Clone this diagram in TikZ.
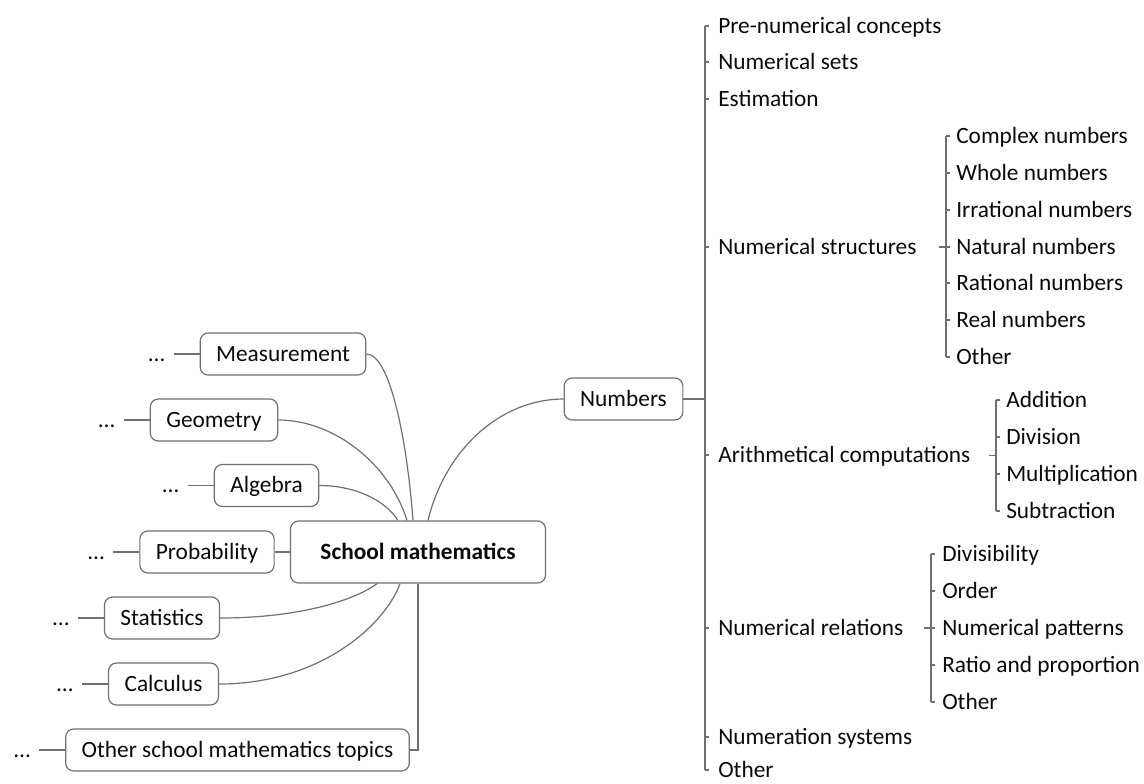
\documentclass[tikz,border=0pt]{standalone}
\usepackage{fontspec}
\setmainfont{Carlito}
\usetikzlibrary{positioning}
\definecolor{linegray}{RGB}{112,112,112}
\definecolor{inkgray}{RGB}{10,10,10}
\newcommand\mapfont{\fontsize{17.5}{20}\selectfont}
\tikzset{
  topic/.style={draw=linegray, line width=0.9pt, rounded corners=6pt, fill=white,
    inner xsep=12pt, inner ysep=0pt, minimum height=31.5pt,
    text height=11pt, text depth=0pt, font=\mapfont, text=inkgray},
  rootbox/.style={topic, inner xsep=22.5pt, minimum height=46.5pt, font=\mapfont\bfseries},
  leaf/.style={anchor=west, inner sep=0pt, text height=11pt, text depth=0pt,
    font=\mapfont, text=inkgray},
  more/.style={inner xsep=6.5pt, inner ysep=0pt, text height=11pt, text depth=0pt,
    font=\mapfont, text=inkgray},
  link/.style={draw=linegray, line width=0.9pt}
}
\begin{document}
\begin{tikzpicture}[x=0.75pt,y=0.75pt,yscale=-1,xscale=1]
\useasboundingbox (0,0) rectangle (1144,783);
% central topic and the left branches
\node[rootbox] (school) at (418,552) {School mathematics};
\node[topic] (meas) at (283,354) {Measurement};
\node[topic] (geom) at (214,420) {Geometry};
\node[topic] (alg) at (266.5,485.5) {Algebra};
\node[topic] (prob) at (207,552) {Probability};
\node[topic] (stat) at (162,618) {Statistics};
\node[topic] (calc) at (163.5,684) {Calculus};
\node[topic] (other) at (237.5,750) {Other school mathematics topics};
\node[topic] (numbers) at (623.5,399) {Numbers};
\foreach \t in {meas,geom,alg,prob,stat,calc,other}
  \node[more, left=19.5pt of \t] (\t dots) {…};
\foreach \t in {meas,geom,alg,prob,stat,calc,other}
  \draw[link] (\t dots) -- (\t);
\draw[link] (meas.east) .. controls (390,354) and (407,440) .. ([xshift=-3.75pt]school.north);
\draw[link] (geom.east) .. controls (335,420) and (390,465) .. ([xshift=-8.25pt]school.north);
\draw[link] (alg.east) .. controls (355,485.5) and (385,500) .. ([xshift=-15pt]school.north);
\draw[link] (prob) -- (school);
\draw[link] (stat.east) .. controls (300,618) and (355,600) .. ([xshift=-30.75pt]school.south);
\draw[link] (calc.east) .. controls (320,684) and (385,625) .. ([xshift=-13.5pt]school.south);
\draw[link] (other.east) -| (school.south);
\draw[link] ([xshift=7.5pt]school.north) .. controls (445,450) and (500,399) .. (numbers.west);
% numbers bracket
\coordinate (nbr) at (705,399);
\node[leaf] (pre) at (718,26) {Pre-numerical concepts};
\node[leaf] (sets) at (718,62) {Numerical sets};
\node[leaf] (est) at (718,99) {Estimation};
\node[leaf] (struct) at (718,247) {Numerical structures};
\node[leaf] (arith) at (718,455) {Arithmetical computations};
\node[leaf] (rel) at (718,628) {Numerical relations};
\node[leaf] (sys) at (718,737) {Numeration systems};
\node[leaf] (oth) at (718,770) {Other};
\draw[link] (numbers.east) -- (nbr);
\draw[link] (pre.west -| nbr) -- (oth.west -| nbr);
\foreach \n in {pre,sets,est,struct,arith,rel,sys,oth}
  \draw[link] (\n.west -| nbr) -- ++(4,0);
% numerical structures
\coordinate (sbr) at (946,247);
\node[leaf] (cplx) at (956,136) {Complex numbers};
\node[leaf] (whole) at (956,173) {Whole numbers};
\node[leaf] (irr) at (956,210) {Irrational numbers};
\node[leaf] (nat) at (956,247) {Natural numbers};
\node[leaf] (rat) at (956,283) {Rational numbers};
\node[leaf] (real) at (956,320) {Real numbers};
\node[leaf] (sothr) at (956,357) {Other};
\draw[link] (sbr) -- ++(-7,0);
\draw[link] (cplx.west -| sbr) -- (sothr.west -| sbr);
\foreach \n in {cplx,whole,irr,nat,rat,real,sothr}
  \draw[link] (\n.west -| sbr) -- ++(4,0);
% arithmetical computations
\coordinate (abr) at (996,455.5);
\node[leaf] (add) at (1006,400) {Addition};
\node[leaf] (div) at (1006,437) {Division};
\node[leaf] (mult) at (1006,474) {Multiplication};
\node[leaf] (sub) at (1006,511) {Subtraction};
\draw[link] (abr) -- ++(-7,0);
\draw[link] (add.west -| abr) -- (sub.west -| abr);
\foreach \n in {add,div,mult,sub}
  \draw[link] (\n.west -| abr) -- ++(4,0);
% numerical relations
\coordinate (rbr) at (931,628);
\node[leaf] (dvs) at (942,554) {Divisibility};
\node[leaf] (ord) at (942,591) {Order};
\node[leaf] (pat) at (942,628) {Numerical patterns};
\node[leaf] (ratio) at (942,665) {Ratio and proportion};
\node[leaf] (rothr) at (942,702) {Other};
\draw[link] (rbr) -- ++(-7,0);
\draw[link] (dvs.west -| rbr) -- (rothr.west -| rbr);
\foreach \n in {dvs,ord,pat,ratio,rothr}
  \draw[link] (\n.west -| rbr) -- ++(4,0);
\end{tikzpicture}
\end{document}
